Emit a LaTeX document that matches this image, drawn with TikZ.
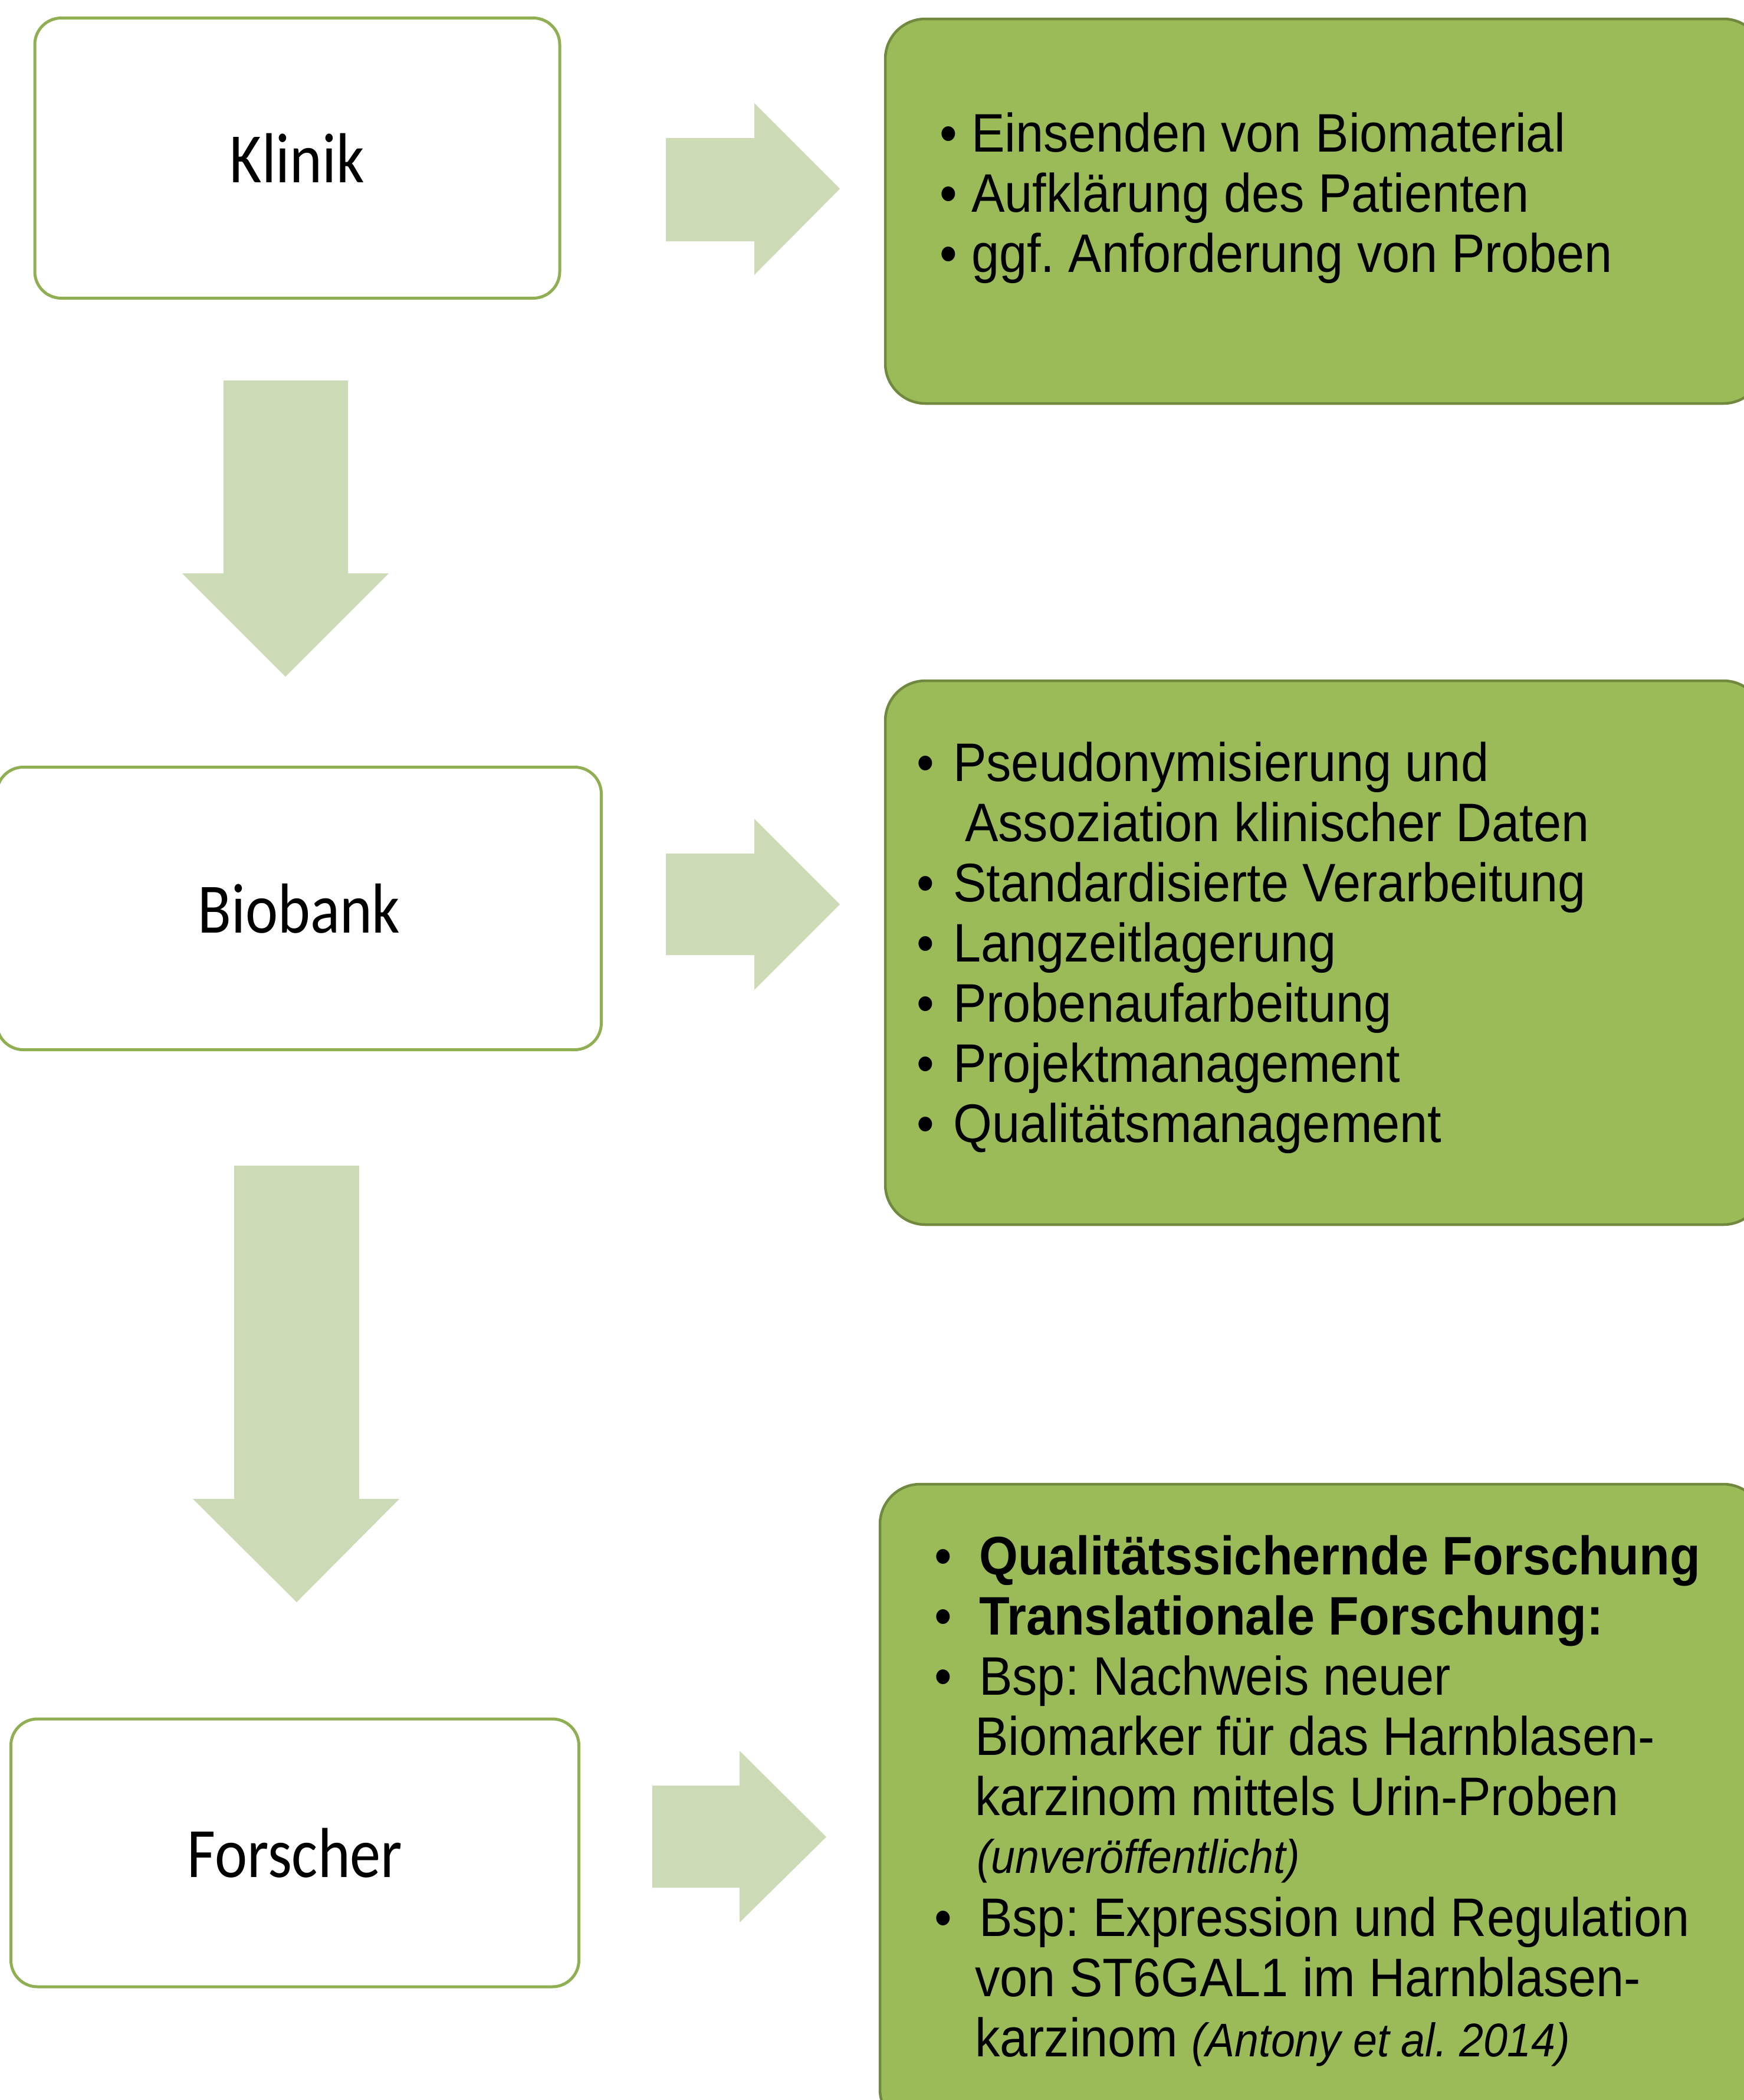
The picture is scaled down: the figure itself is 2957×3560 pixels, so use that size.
\documentclass[tikz,border=0pt]{standalone}
\usepackage{fontspec}
\setmainfont{Liberation Sans}
\newfontfamily\calib{Carlito}
\usepackage{graphicx}
\definecolor{boxgreen}{HTML}{9BBB59}
\definecolor{darkgreen}{HTML}{71893F}
\definecolor{leftgreen}{HTML}{8FAF52}
\definecolor{arrowgreen}{HTML}{CDDAB6}
\newcommand\cx[1]{\scalebox{0.92}[1]{#1}}
\newcommand\ccx[1]{\scalebox{0.87}[1]{#1}}
\frenchspacing
\begin{document}
\begin{tikzpicture}[x=1pt,y=-1pt,
  leftbox/.style={draw=leftgreen, line width=5pt, fill=white, rounded corners=45pt, inner sep=0pt,
    font=\calib\fontsize{120}{120}\selectfont},
  rightbox/.style={draw=darkgreen, line width=4.5pt, fill=boxgreen, rounded corners=68pt, inner sep=0pt},
  blockarrow/.style={fill=arrowgreen},
  item/.style={anchor=base west, inner sep=0pt, font=\fontsize{92}{100}\selectfont},
  bul/.style={anchor=base, inner sep=0pt, font=\fontsize{92}{100}\selectfont},
  ital/.style={font=\itshape\fontsize{80}{80}\selectfont}]
\useasboundingbox (0,0) rectangle (2957,3560);
\clip (0,0) rectangle (2957,3560);

% left boxes
\node[leftbox, minimum width=890pt, minimum height=475pt] (klinik) at (504,268) {\ccx{Klinik}};
\node[leftbox, minimum width=1025pt, minimum height=479pt] (biobank) at (507,1540) {\ccx{Biobank}};
\node[leftbox, minimum width=963pt, minimum height=454pt] (forscher) at (500,3141) {\ccx{Forscher}};

% right boxes
\node[rightbox, minimum width=1489pt, minimum height=652pt] (tasks1) at (2245.5,358) {};
\node[rightbox, minimum width=1489pt, minimum height=922pt] (tasks2) at (2245.5,1615) {};
\node[rightbox, minimum width=1498pt, minimum height=1094pt] (tasks3) at (2241,3063) {};

% right block arrows
\coordinate (r1) at (1129,234);
\fill[blockarrow] (r1) -- (1279,234) -- (1279,175) -- (1424,320) -- (1279,466) -- (1279,409) -- (1129,409) -- cycle;
\coordinate (r2) at (1129,1447);
\fill[blockarrow] (r2) -- (1279,1447) -- (1279,1388) -- (1424,1533) -- (1279,1678) -- (1279,1619) -- (1129,1619) -- cycle;
\coordinate (r3) at (1106,3027);
\fill[blockarrow] (r3) -- (1254,3027) -- (1254,2968) -- (1401,3114) -- (1254,3259) -- (1254,3200) -- (1106,3200) -- cycle;

% down block arrows
\coordinate (d1) at (379,645);
\fill[blockarrow] (d1) -- (590,645) -- (590,972) -- (659,972) -- (484,1147) -- (309,972) -- (379,972) -- cycle;
\coordinate (d2) at (397,1976);
\fill[blockarrow] (d2) -- (609,1976) -- (609,2541) -- (677,2541) -- (503,2716) -- (327,2541) -- (397,2541) -- cycle;

% box 1 text
\foreach \yy/\tt [count=\i] in {257/Einsenden von Biomaterial, 359/Aufklärung des Patienten, 461/ggf. Anforderung von Proben}{
  \node[bul] (ab\i) at (1608,\yy) {\cx{•}};
  \node[item] (a\i) at (1647,\yy) {\cx{\tt}};
}

% box 2 text
\foreach \yy/\tt [count=\i] in {1324/Pseudonymisierung und, 1528/Standardisierte Verarbeitung, 1630/Langzeitlagerung, 1732/Probenaufarbeitung, 1834/Projektmanagement, 1936/Qualitätsmanagement}{
  \node[bul] (bb\i) at (1569,\yy) {\cx{•}};
  \node[item] (b\i) at (1616,\yy) {\cx{\tt}};
}
\node[item] (b0) at (1636,1426) {\cx{Assoziation klinischer Daten}};

% box 3 text
\node[bul] (cb1) at (1599,2669) {\cx{•}};
\node[item] (c1) at (1660,2669) {\cx{\bfseries Qualitätssichernde Forschung}};
\node[bul] (cb2) at (1599,2771) {\cx{•}};
\node[item] (c2) at (1660,2771) {\cx{\bfseries Translationale Forschung:}};
\node[bul] (cb3) at (1599,2873) {\cx{•}};
\node[item] (c3) at (1660,2873) {\cx{Bsp: Nachweis neuer}};
\node[item] (c4) at (1653,2975) {\cx{Biomarker für das Harnblasen-}};
\node[item] (c5) at (1653,3077) {\cx{karzinom mittels Urin-Proben}};
\node[item] (c6) at (1656,3175) {\cx{{\itshape\fontsize{80}{80}\selectfont (unveröffentlicht)}}};
\node[bul] (cb4) at (1599,3282) {\cx{•}};
\node[item] (c7) at (1660,3282) {\cx{Bsp: Expression und Regulation}};
\node[item] (c8) at (1653,3384) {\cx{von ST6GAL1 im Harnblasen-}};
\node[item] (c9) at (1653,3486) {\cx{karzinom {\itshape\fontsize{80}{80}\selectfont (Antony et al. 2014)}}};
\end{tikzpicture}
\end{document}
